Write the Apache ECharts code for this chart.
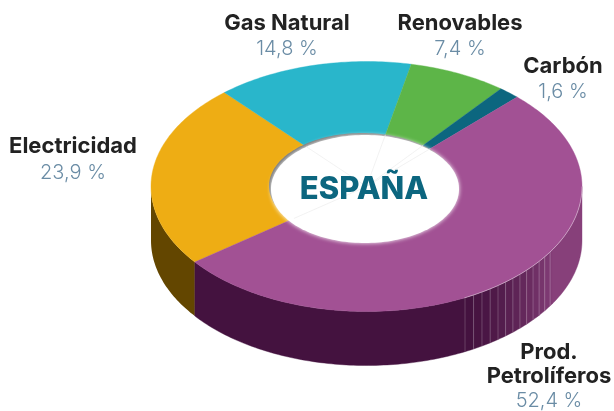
<!DOCTYPE html>
<html><head><meta charset="utf-8">
<style>html,body{margin:0;padding:0;background:#fff}#c{width:614px;height:411px}</style>
<script src="https://cdn.jsdelivr.net/npm/echarts@6/dist/echarts.min.js"></script>
</head><body><div id="c"></div>
<script>
const categories = ['Electricidad','Gas Natural','Renovables','Carbón','Prod. Petrolíferos'];
const values = [23.9,14.8,7.4,1.6,52.4];
const title = 'ESPAÑA';

const topColors = ['#EEAD14','#29B6CB','#5DB548','#0C667F','#A25194'];
const wallColors = ['#634600','#1a6c7a','#376c2b','#073d4c','#44123F'];
const START = 217.2, CX = 366.5, CY = 186.5, RX = 215.5, RY = 125, DEPTH = 54;
const HOLE = {cx:364, cy:188, rx:95, ry:55};
const rad = d => d*Math.PI/180;
const total = values.reduce((a,b)=>a+b,0);
const P = (t,dy=0) => [CX+RX*Math.cos(rad(t)), CY-RY*Math.sin(rad(t))+dy];
function arc(a,b,dy=0){ const n=Math.max(2,Math.ceil(Math.abs(b-a))), o=[]; for(let i=0;i<=n;i++) o.push(P(a+(b-a)*i/n,dy)); return o; }
function mix(c1,c2,k){ const h=c=>[1,3,5].map(i=>parseInt(c.substr(i,2),16)); const a=h(c1),b=h(c2);
  return 'rgb('+a.map((v,i)=>Math.round(v+(b[i]-v)*k)).join(',')+')'; }

let cum = 0;
const ranges = values.map(v=>{ const a=START-cum/total*360; cum+=v; return [a,START-cum/total*360]; });

function wallPieces(a,b,i){
  const out=[];
  const segs=[];
  for(const [s,e] of [[180,360],[-180,0]]){
    const u=Math.min(a,e), l=Math.max(b,s);
    if(u>l) segs.push([l,u]);
  }
  segs.forEach(([l,u])=>{
    if(i!==4){ out.push({type:'polygon',shape:{points:arc(l,u).concat(arc(u,l,DEPTH))},style:{fill:wallColors[i]}}); return; }
    const d0=-62.8, d1=-30.6, step=2.6;
    const dark=wallColors[4], light='#87407A';
    const flat=(p,q,col)=>out.push({type:'polygon',shape:{points:arc(p,q).concat(arc(q,p,DEPTH))},style:{fill:col,stroke:col,lineWidth:.4}});
    if(l<d0) flat(l,Math.min(u,d0),dark);
    for(let k=d0;k<d1;k+=step){
      const q=Math.min(k+step,d1);
      flat(k,q,mix(dark,light,Math.pow((k-d0)/(d1-d0),1.3)));
      const p1=P(k), p2=P(k,DEPTH);
      out.push({type:'line',shape:{x1:p1[0],y1:p1[1],x2:p2[0],y2:p2[1]},style:{stroke:'rgba(255,255,255,.3)',lineWidth:.7}});
    }
    flat(d1,0,light);
  });
  return out;
}

function ellipse(cx,cy,rx,ry){ const o=[]; for(let i=0;i<180;i++){const t=i*2*Math.PI/180;o.push([cx+rx*Math.cos(t),cy+ry*Math.sin(t)]);} return o; }

function renderItem(params){
  const i=params.dataIndex, [a,b]=ranges[i];
  return {type:'group',children:wallPieces(a,b,i)};
}
function renderTop(params){
  const i=params.dataIndex, [a,b]=ranges[i];
  return {type:'polygon',shape:{points:[[CX,CY],...arc(a,b)]},style:{fill:topColors[i],stroke:topColors[i],lineWidth:.4}};
}
function renderHole(){
  const ch=[
    {type:'polygon',shape:{points:ellipse(HOLE.cx-1.5,HOLE.cy-2,HOLE.rx-1.5,HOLE.ry-2)},style:{fill:'#777777'}},
    {type:'polygon',shape:{points:ellipse(HOLE.cx+1,HOLE.cy+1,HOLE.rx-1,HOLE.ry-1)},style:{fill:'#fff',shadowBlur:4,shadowColor:'#fff'}}
  ];
  ranges.forEach(r=>{
    const p=P(r[0]), dx=p[0]-CX, dy=p[1]-CY;
    const s=1/Math.sqrt((dx*dx)/(HOLE.rx*HOLE.rx)+(dy*dy)/(HOLE.ry*HOLE.ry));
    ch.push({type:'line',shape:{x1:CX,y1:CY,x2:CX+dx*s*.96,y2:CY+dy*s*.96},style:{stroke:'#ececec',lineWidth:.7}});
  });
  return {type:'group',children:ch};
}
function renderRim(){
  return {type:'polyline',shape:{points:arc(297,360)},style:{fill:'none',stroke:'rgba(255,255,255,.5)',lineWidth:.8}};
}

const seriesData = values.map((v,i)=>({name:categories[i],value:v}));
const fmt = v => v.toFixed(1).replace('.',',')+' %';
const nameStyle = {fontFamily:'Inter',fontWeight:700,fontSize:22,fill:'#222222',textAlign:'center',textVerticalAlign:'middle'};
const valStyle = {fontFamily:'Inter',fontWeight:300,fontSize:20,fill:'#6A8CA5',textAlign:'center',textVerticalAlign:'middle'};
const labelPos = [[73,146,173],[287,23,49],[460,23,49],[563,66,92],[549,0,401]];
const g=[];
categories.forEach((c,i)=>{
  const [x,y1,y2]=labelPos[i];
  if(i===4){
    g.push({type:'text',x:x,y:352,style:{...nameStyle,text:'Prod.'}});
    g.push({type:'text',x:x,y:376,style:{...nameStyle,text:'Petrolíferos'}});
  } else g.push({type:'text',x:x,y:y1,style:{...nameStyle,text:c}});
  g.push({type:'text',x:x,y:y2,style:{...valStyle,text:fmt(values[i])}});
});
g.push({type:'text',x:364,y:190,z:100,style:{text:title,fontFamily:'Inter',fontWeight:800,fontSize:31,fill:'#0C667F',textAlign:'center',textVerticalAlign:'middle'}});

const chart=echarts.init(document.getElementById('c'),null,{renderer:'canvas'});
chart.setOption({
  animation:false,
  backgroundColor:'#fff',
  graphic:{elements:g},
  series:[
    {type:'custom',coordinateSystem:'none',silent:true,z:1,data:seriesData,renderItem:renderItem},
    {type:'custom',coordinateSystem:'none',silent:true,z:2,data:seriesData,renderItem:renderTop},
    {type:'custom',coordinateSystem:'none',silent:true,z:3,data:[{name:'rim',value:1}],renderItem:renderRim},
    {type:'custom',coordinateSystem:'none',silent:true,z:4,data:[{name:title,value:1}],renderItem:renderHole}
  ]
});
</script></body></html>
